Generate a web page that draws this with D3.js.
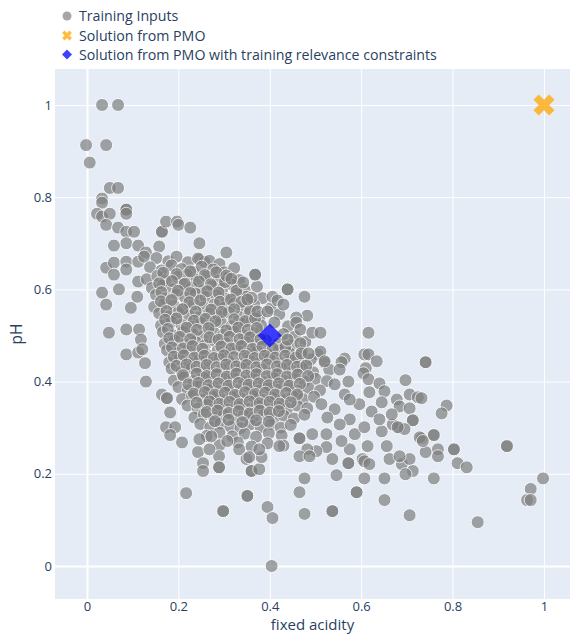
<!DOCTYPE html>
<html>
<head>
<meta charset="utf-8">
<script src="https://cdn.jsdelivr.net/npm/d3@7"></script>
<style>
  body { margin: 0; background: #fff; }
  #chart svg { display: block; font-family: "Open Sans", verdana, arial, sans-serif; }
</style>
</head>
<body>
<div id="chart"></div>
<script>
// Tick values and labels
const xTicks = [0, 0.2, 0.4, 0.6, 0.8, 1];
const yTicks = [0, 0.2, 0.4, 0.6, 0.8, 1];
const legendLabels = [
  'Training Inputs',
  'Solution from PMO',
  'Solution from PMO with training relevance constraints'
];

// Solutions [fixed acidity, pH]
const pmoSolution = [1, 1];
const constrainedSolution = [0.4, 0.5];

const trainingUpper = [
  [0.033, 1.0], [0.068, 1.0], [-0.002, 0.913], [0.042, 0.913], [0.006, 0.875],
  [0.05, 0.82], [0.068, 0.82], [0.033, 0.797], [0.033, 0.788],
  [0.022, 0.764], [0.033, 0.758], [0.05, 0.764], [0.086, 0.773], [0.086, 0.773], [0.086, 0.764],
  [0.042, 0.74], [0.068, 0.734], [0.086, 0.725], [0.103, 0.725], [0.086, 0.70], [0.059, 0.695], [0.112, 0.695],
  [0.164, 0.725], [0.164, 0.725], [0.173, 0.747], [0.197, 0.747], [0.2, 0.74], [0.226, 0.734], [0.246, 0.70], [0.305, 0.68],
  [0.042, 0.647], [0.059, 0.658], [0.086, 0.66], [0.086, 0.643], [0.059, 0.632], [0.112, 0.66], [0.129, 0.68],
  [0.125, 0.671], [0.158, 0.693], [0.246, 0.665], [0.257, 0.66],
  [0.033, 0.593], [0.042, 0.567], [0.07, 0.6], [0.096, 0.56], [0.112, 0.617], [0.11, 0.584],
  [0.048, 0.506], [0.086, 0.513], [0.086, 0.459], [0.112, 0.463], [0.114, 0.513], [0.118, 0.491],
  [0.121, 0.47], [0.127, 0.44]
];

const trainingCore = [
  [0.152, 0.668], [0.178, 0.661], [0.196, 0.671], [0.221, 0.659], [0.243, 0.667], [0.268, 0.662], [0.29, 0.655],
  [0.138, 0.648], [0.163, 0.641], [0.185, 0.652], [0.207, 0.644], [0.232, 0.638], [0.251, 0.649], [0.276, 0.643], [0.301, 0.637], [0.322, 0.646],
  [0.131, 0.622], [0.154, 0.629], [0.172, 0.619], [0.198, 0.627], [0.219, 0.632], [0.24, 0.621], [0.262, 0.628], [0.287, 0.619], [0.309, 0.626], [0.333, 0.62],
  [0.142, 0.603], [0.166, 0.609], [0.188, 0.6], [0.21, 0.611], [0.229, 0.604], [0.253, 0.598], [0.274, 0.607], [0.296, 0.601], [0.318, 0.61], [0.345, 0.599], [0.372, 0.606],
  [0.151, 0.588], [0.173, 0.58], [0.196, 0.589], [0.215, 0.582], [0.238, 0.591], [0.26, 0.583], [0.283, 0.587], [0.305, 0.579], [0.327, 0.59], [0.349, 0.584], [0.384, 0.581],
  [0.147, 0.562], [0.169, 0.57], [0.19, 0.565], [0.213, 0.559], [0.234, 0.568], [0.256, 0.561], [0.279, 0.567], [0.3, 0.56], [0.322, 0.569], [0.341, 0.562], [0.366, 0.566], [0.402, 0.559],
  [0.158, 0.548], [0.18, 0.541], [0.2, 0.55], [0.223, 0.543], [0.245, 0.539], [0.267, 0.548], [0.288, 0.542], [0.31, 0.55], [0.333, 0.54], [0.355, 0.547], [0.378, 0.541], [0.421, 0.546],
  [0.162, 0.522], [0.185, 0.53], [0.207, 0.523], [0.228, 0.519], [0.25, 0.527], [0.271, 0.521], [0.293, 0.529], [0.316, 0.52], [0.338, 0.526], [0.36, 0.531], [0.381, 0.522], [0.41, 0.528], [0.44, 0.52],
  [0.166, 0.507], [0.189, 0.5], [0.21, 0.509], [0.232, 0.502], [0.255, 0.498], [0.277, 0.507], [0.298, 0.501], [0.321, 0.509], [0.343, 0.5], [0.365, 0.505], [0.43, 0.503], [0.455, 0.498],
  [0.17, 0.482], [0.192, 0.489], [0.215, 0.481], [0.237, 0.487], [0.258, 0.479], [0.28, 0.488], [0.303, 0.483], [0.325, 0.478], [0.347, 0.487], [0.369, 0.481], [0.392, 0.489], [0.418, 0.482], [0.447, 0.479], [0.478, 0.486],
  [0.175, 0.468], [0.198, 0.461], [0.22, 0.469], [0.241, 0.462], [0.263, 0.458], [0.286, 0.467], [0.307, 0.461], [0.33, 0.469], [0.352, 0.46], [0.373, 0.466], [0.396, 0.459], [0.42, 0.468], [0.443, 0.462], [0.47, 0.466], [0.505, 0.459],
  [0.18, 0.442], [0.203, 0.449], [0.224, 0.44], [0.246, 0.447], [0.268, 0.441], [0.29, 0.45], [0.311, 0.443], [0.334, 0.438], [0.356, 0.447], [0.378, 0.441], [0.4, 0.449], [0.423, 0.44], [0.446, 0.446], [0.468, 0.439], [0.49, 0.448], [0.52, 0.441],
  [0.185, 0.428], [0.207, 0.421], [0.229, 0.429], [0.25, 0.422], [0.273, 0.419], [0.295, 0.427], [0.316, 0.42], [0.338, 0.429], [0.36, 0.421], [0.383, 0.426], [0.405, 0.419], [0.427, 0.428], [0.45, 0.422], [0.472, 0.429], [0.495, 0.42], [0.53, 0.426],
  [0.19, 0.402], [0.212, 0.409], [0.233, 0.401], [0.255, 0.408], [0.277, 0.399], [0.299, 0.406], [0.321, 0.41], [0.343, 0.401], [0.365, 0.407], [0.387, 0.399], [0.409, 0.408], [0.431, 0.402], [0.454, 0.409], [0.476, 0.4], [0.5, 0.406], [0.525, 0.401],
  [0.2, 0.388], [0.221, 0.381], [0.243, 0.389], [0.265, 0.382], [0.287, 0.379], [0.308, 0.388], [0.33, 0.381], [0.352, 0.389], [0.374, 0.38], [0.396, 0.387], [0.418, 0.382], [0.44, 0.389], [0.462, 0.38], [0.485, 0.386], [0.51, 0.381],
  [0.208, 0.362], [0.23, 0.369], [0.252, 0.361], [0.274, 0.368], [0.296, 0.36], [0.317, 0.367], [0.34, 0.362], [0.362, 0.369], [0.384, 0.36], [0.405, 0.366], [0.428, 0.361], [0.45, 0.368], [0.473, 0.362], [0.497, 0.367],
  [0.22, 0.348], [0.242, 0.341], [0.263, 0.349], [0.285, 0.342], [0.307, 0.339], [0.328, 0.347], [0.35, 0.341], [0.372, 0.349], [0.394, 0.34], [0.416, 0.346], [0.438, 0.341], [0.46, 0.348], [0.482, 0.342],
  [0.235, 0.322], [0.256, 0.329], [0.278, 0.321], [0.3, 0.328], [0.321, 0.32], [0.343, 0.327], [0.365, 0.322], [0.387, 0.329], [0.409, 0.321], [0.431, 0.326], [0.453, 0.32], [0.476, 0.328],
  [0.248, 0.308], [0.27, 0.301], [0.292, 0.309], [0.314, 0.302], [0.336, 0.299], [0.357, 0.307], [0.38, 0.301], [0.402, 0.308], [0.424, 0.3], [0.446, 0.306],
  [0.262, 0.282], [0.29, 0.289], [0.318, 0.281], [0.345, 0.287], [0.37, 0.28], [0.398, 0.288], [0.426, 0.283],
  [0.29, 0.262], [0.33, 0.268], [0.36, 0.259], [0.395, 0.266], [0.43, 0.261]
];

// Second, overlapping layer in the densest part of the cloud
const trainingDense = [
  [0.167, 0.636], [0.196, 0.633], [0.226, 0.639], [0.258, 0.631], [0.283, 0.637],
  [0.158, 0.613], [0.186, 0.618], [0.214, 0.612], [0.245, 0.617], [0.271, 0.611], [0.302, 0.616],
  [0.163, 0.594], [0.199, 0.597], [0.226, 0.592], [0.263, 0.596], [0.288, 0.593], [0.327, 0.597],
  [0.162, 0.574], [0.185, 0.577], [0.224, 0.572], [0.248, 0.576], [0.291, 0.573], [0.315, 0.578], [0.338, 0.573],
  [0.174, 0.553], [0.209, 0.557], [0.238, 0.552], [0.272, 0.556], [0.295, 0.551], [0.322, 0.557], [0.357, 0.553],
  [0.171, 0.534], [0.196, 0.537], [0.234, 0.532], [0.259, 0.536], [0.281, 0.531], [0.322, 0.535], [0.346, 0.531], [0.368, 0.537],
  [0.177, 0.514], [0.218, 0.517], [0.241, 0.512], [0.266, 0.516], [0.305, 0.511], [0.331, 0.517], [0.352, 0.512], [0.372, 0.516],
  [0.18, 0.494], [0.203, 0.497], [0.226, 0.492], [0.268, 0.496], [0.288, 0.491], [0.312, 0.497], [0.334, 0.492], [0.357, 0.496], [0.38, 0.492],
  [0.186, 0.474], [0.21, 0.472], [0.231, 0.477], [0.253, 0.471], [0.294, 0.476], [0.316, 0.472], [0.338, 0.477], [0.362, 0.471], [0.384, 0.476], [0.407, 0.472], [0.434, 0.475],
  [0.19, 0.454], [0.212, 0.457], [0.235, 0.452], [0.257, 0.456], [0.278, 0.451], [0.3, 0.457], [0.322, 0.453], [0.345, 0.456], [0.367, 0.451], [0.389, 0.456], [0.412, 0.452], [0.434, 0.456], [0.457, 0.452],
  [0.196, 0.434], [0.218, 0.437], [0.24, 0.432], [0.262, 0.436], [0.284, 0.431], [0.305, 0.437], [0.327, 0.433], [0.349, 0.436], [0.371, 0.431], [0.394, 0.437], [0.416, 0.433], [0.438, 0.436], [0.46, 0.432], [0.48, 0.435],
  [0.21, 0.414], [0.24, 0.417], [0.262, 0.412], [0.284, 0.416], [0.306, 0.411], [0.327, 0.417], [0.349, 0.413], [0.371, 0.416], [0.394, 0.412], [0.416, 0.416], [0.438, 0.411], [0.461, 0.415], [0.484, 0.412],
  [0.222, 0.394], [0.244, 0.397], [0.266, 0.392], [0.288, 0.396], [0.31, 0.391], [0.332, 0.397], [0.354, 0.393], [0.376, 0.396], [0.398, 0.392], [0.42, 0.396], [0.443, 0.391], [0.466, 0.395],
  [0.234, 0.374], [0.258, 0.377], [0.28, 0.372], [0.302, 0.376], [0.324, 0.371], [0.346, 0.377], [0.368, 0.373], [0.39, 0.376], [0.412, 0.372], [0.436, 0.375], [0.46, 0.372],
  [0.24, 0.354], [0.268, 0.357], [0.29, 0.352], [0.312, 0.356], [0.334, 0.351], [0.356, 0.357], [0.378, 0.353], [0.4, 0.356], [0.422, 0.352], [0.446, 0.355],
  [0.262, 0.334], [0.286, 0.337], [0.31, 0.332], [0.332, 0.336], [0.356, 0.331], [0.378, 0.337], [0.4, 0.333], [0.42, 0.336],
  [0.28, 0.314], [0.31, 0.317], [0.34, 0.312], [0.37, 0.316], [0.398, 0.313]
];

const trainingRight = [
  [0.368, 0.632], [0.368, 0.632], [0.305, 0.63], [0.316, 0.623], [0.342, 0.615], [0.439, 0.6], [0.439, 0.6],
  [0.476, 0.584], [0.406, 0.584], [0.417, 0.576], [0.43, 0.567], [0.36, 0.582], [0.351, 0.578],
  [0.482, 0.543], [0.373, 0.552], [0.395, 0.552], [0.458, 0.539], [0.458, 0.528], [0.467, 0.513],
  [0.493, 0.506], [0.511, 0.506], [0.616, 0.506], [0.439, 0.491], [0.467, 0.483], [0.469, 0.461],
  [0.511, 0.465], [0.52, 0.444], [0.485, 0.461], [0.607, 0.459], [0.616, 0.459], [0.634, 0.444],
  [0.564, 0.45], [0.557, 0.442], [0.553, 0.426], [0.61, 0.429], [0.605, 0.418],
  [0.616, 0.405], [0.572, 0.4], [0.64, 0.396], [0.651, 0.379], [0.697, 0.403], [0.706, 0.372],
  [0.724, 0.366], [0.678, 0.361], [0.684, 0.346], [0.645, 0.355],
  [0.741, 0.442], [0.741, 0.442], [0.732, 0.364], [0.787, 0.348], [0.776, 0.331], [0.706, 0.342],
  [0.713, 0.316], [0.713, 0.316], [0.759, 0.284], [0.759, 0.284], [0.732, 0.277], [0.768, 0.253],
  [0.768, 0.238], [0.803, 0.253], [0.803, 0.253], [0.741, 0.247], [0.811, 0.223], [0.831, 0.214],
  [0.919, 0.26], [0.919, 0.26], [0.684, 0.3], [0.618, 0.377],
  [0.669, 0.307], [0.695, 0.297], [0.645, 0.292], [0.656, 0.26], [0.614, 0.26], [0.603, 0.232],
  [0.575, 0.253], [0.586, 0.286], [0.557, 0.271], [0.524, 0.258], [0.537, 0.232], [0.502, 0.249],
  [0.482, 0.253], [0.524, 0.286], [0.493, 0.286],
  [0.564, 0.372], [0.542, 0.34], [0.575, 0.318], [0.596, 0.351], [0.623, 0.335], [0.64, 0.318],
  [0.607, 0.301], [0.553, 0.307], [0.526, 0.322], [0.513, 0.351], [0.542, 0.394], [0.575, 0.361],
  [0.667, 0.329], [0.68, 0.301],
  [0.607, 0.227], [0.618, 0.221], [0.662, 0.232], [0.689, 0.221], [0.706, 0.232], [0.728, 0.279],
  [0.735, 0.271], [0.684, 0.238], [0.421, 0.26], [0.465, 0.277], [0.465, 0.277], [0.465, 0.238], [0.487, 0.238]
];

const trainingLower = [
  [0.759, 0.19], [0.713, 0.206], [0.697, 0.199], [0.998, 0.19], [0.971, 0.167], [0.963, 0.143],
  [0.971, 0.143], [0.855, 0.095], [0.706, 0.11],
  [0.476, 0.19], [0.465, 0.16], [0.476, 0.113], [0.395, 0.128], [0.406, 0.104], [0.537, 0.119],
  [0.537, 0.119], [0.546, 0.197], [0.572, 0.223], [0.572, 0.223], [0.59, 0.16], [0.59, 0.16],
  [0.607, 0.19], [0.651, 0.19], [0.651, 0.143],
  [0.404, 0.0],
  [0.129, 0.4], [0.164, 0.372], [0.175, 0.364], [0.175, 0.364], [0.182, 0.333], [0.173, 0.301],
  [0.193, 0.301], [0.182, 0.284], [0.208, 0.268], [0.243, 0.247], [0.254, 0.223], [0.254, 0.206],
  [0.289, 0.238], [0.289, 0.214], [0.289, 0.214], [0.217, 0.158], [0.298, 0.119], [0.298, 0.119],
  [0.351, 0.152], [0.351, 0.152], [0.333, 0.253], [0.349, 0.232], [0.36, 0.206], [0.36, 0.206],
  [0.377, 0.21], [0.382, 0.236], [0.355, 0.236], [0.377, 0.253], [0.246, 0.275], [0.268, 0.253],
  [0.272, 0.281], [0.307, 0.271]
];

class PmoScatter {
  constructor(containerId) {
    this.container = document.getElementById(containerId);
    this.width = 571;
    this.height = 634;
    this.plot = { left: 55, right: 570, top: 69, bottom: 599 };
    this.textColor = '#2a3f5f';
    this.init();
  }

  init() {
    this.createSVG();
    this.drawAxes();
    this.drawPoints();
    this.drawLegend();
  }

  createSVG() {
    this.svg = d3.select(this.container)
      .append('svg')
      .attr('width', this.width)
      .attr('height', this.height);

    this.x = d3.scaleLinear().domain([-0.070, 1.057]).range([this.plot.left, this.plot.right]);
    this.y = d3.scaleLinear().domain([-0.0716, 1.078]).range([this.plot.bottom, this.plot.top]);

    this.svg.append('rect')
      .attr('x', this.plot.left)
      .attr('y', this.plot.top)
      .attr('width', this.plot.right - this.plot.left)
      .attr('height', this.plot.bottom - this.plot.top)
      .attr('fill', '#E5ECF6');
  }

  drawAxes() {
    const plotW = this.plot.right - this.plot.left;
    const plotH = this.plot.bottom - this.plot.top;
    const fmt = d => d3.format('~g')(d);

    const xAxis = this.svg.append('g')
      .attr('transform', `translate(0,${this.plot.bottom})`)
      .call(d3.axisBottom(this.x).tickValues(xTicks).tickFormat(fmt)
        .tickSize(-plotH).tickPadding(3));

    const yAxis = this.svg.append('g')
      .attr('transform', `translate(${this.plot.left},0)`)
      .call(d3.axisLeft(this.y).tickValues(yTicks).tickFormat(fmt)
        .tickSize(-plotW).tickPadding(3));

    [xAxis, yAxis].forEach(axis => {
      axis.select('.domain').remove();
      axis.selectAll('line')
        .attr('stroke', '#fff')
        .attr('stroke-width', d => d === 0 ? 2 : 1);
      axis.selectAll('text')
        .attr('fill', this.textColor)
        .attr('font-size', '13px')
        .attr('font-family', '"Open Sans", verdana, arial, sans-serif');
    });

    // Axis titles
    this.svg.append('text')
      .attr('x', (this.plot.left + this.plot.right) / 2)
      .attr('y', 630)
      .attr('text-anchor', 'middle')
      .attr('font-size', '15px')
      .attr('fill', this.textColor)
      .text('fixed acidity');

    this.svg.append('text')
      .attr('transform', `translate(22,${(this.plot.top + this.plot.bottom) / 2}) rotate(-90)`)
      .attr('text-anchor', 'middle')
      .attr('font-size', '15.5px')
      .attr('fill', this.textColor)
      .text('pH');
  }

  drawPoints() {
    const training = [].concat(trainingUpper, trainingCore, trainingDense, trainingRight, trainingLower);

    this.svg.append('g')
      .attr('class', 'training')
      .selectAll('circle')
      .data(training)
      .enter()
      .append('circle')
      .attr('cx', d => this.x(d[0]))
      .attr('cy', d => this.y(d[1]))
      .attr('r', 6.5)
      .attr('fill', 'rgb(128,128,128)')
      .attr('stroke', '#fff')
      .attr('stroke-width', 1)
      .attr('opacity', 0.7);

    // PMO solution: thick x
    this.svg.append('path')
      .attr('d', d3.symbol(d3.symbolCross, 274)())
      .attr('transform', `translate(${this.x(pmoSolution[0])},${this.y(pmoSolution[1])}) rotate(45)`)
      .attr('fill', 'orange')
      .attr('opacity', 0.75);

    // Constrained solution: diamond
    this.svg.append('path')
      .attr('d', d3.symbol(d3.symbolSquare, 289)())
      .attr('transform', `translate(${this.x(constrainedSolution[0])},${this.y(constrainedSolution[1])}) rotate(45)`)
      .attr('fill', 'blue')
      .attr('opacity', 0.75);
  }

  drawLegend() {
    const rows = [16, 35.5, 54.5];
    const legend = this.svg.append('g').attr('class', 'legend');

    legend.append('circle')
      .attr('cx', 67).attr('cy', rows[0]).attr('r', 4.5)
      .attr('fill', 'rgb(128,128,128)').attr('opacity', 0.7);

    legend.append('path')
      .attr('d', d3.symbol(d3.symbolCross, 60)())
      .attr('transform', `translate(67,${rows[1]}) rotate(45)`)
      .attr('fill', 'orange').attr('opacity', 0.75);

    legend.append('path')
      .attr('d', d3.symbol(d3.symbolSquare, 50)())
      .attr('transform', `translate(67,${rows[2]}) rotate(45)`)
      .attr('fill', 'blue').attr('opacity', 0.75);

    legend.selectAll('text')
      .data(legendLabels)
      .enter()
      .append('text')
      .attr('x', 79)
      .attr('y', (d, i) => rows[i] + 5)
      .attr('font-size', '14.2px')
      .attr('fill', this.textColor)
      .text(d => d);
  }
}

new PmoScatter('chart');
</script>
</body>
</html>
